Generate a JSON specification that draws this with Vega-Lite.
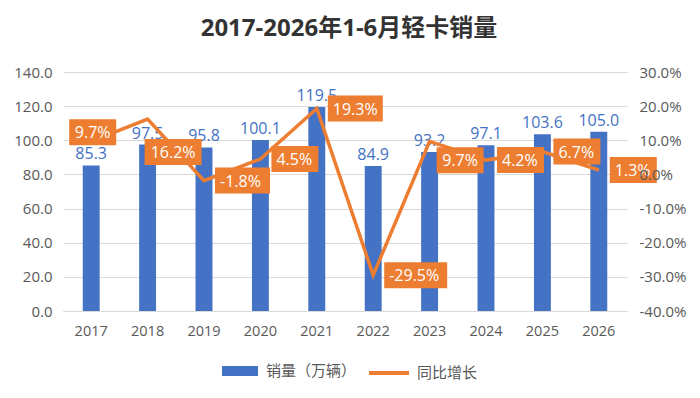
{
  "$schema": "https://vega.github.io/schema/vega-lite/v6.json",
  "width": 564,
  "height": 239,
  "autosize": {"type": "none"},
  "padding": {"left": 63, "top": 72, "right": 73, "bottom": 87},
  "background": "white",
  "title": {
    "text": "2017-2026年1-6月轻卡销量",
    "anchor": "middle",
    "dx": 4,
    "offset": 24,
    "fontSize": 24,
    "fontWeight": "bold",
    "color": "#333333"
  },
  "data": {
    "values": [
      {"year": "2017", "sales": 85.3, "growth": 0.097},
      {"year": "2018", "sales": 97.5, "growth": 0.162},
      {"year": "2019", "sales": 95.8, "growth": -0.018},
      {"year": "2020", "sales": 100.1, "growth": 0.045},
      {"year": "2021", "sales": 119.5, "growth": 0.193},
      {"year": "2022", "sales": 84.9, "growth": -0.295},
      {"year": "2023", "sales": 93.2, "growth": 0.097},
      {"year": "2024", "sales": 97.1, "growth": 0.042},
      {"year": "2025", "sales": 103.6, "growth": 0.067},
      {"year": "2026", "sales": 105.0, "growth": 0.013}
    ]
  },
  "config": {
    "font": "Open Sans, Noto Sans CJK SC",
    "locale": {
      "number": {
        "decimal": ".",
        "thousands": ",",
        "grouping": [3],
        "currency": ["", ""],
        "minus": "-"
      }
    },
    "view": {"stroke": null},
    "axis": {
      "labelFont": "Open Sans, Noto Sans CJK SC",
      "labelFontSize": 15,
      "labelColor": "#595959",
      "title": null,
      "ticks": false,
      "domain": false,
      "gridColor": "#D9D9D9"
    },
    "legend": {
      "labelFont": "Open Sans, Noto Sans CJK SC",
      "labelFontSize": 15,
      "labelColor": "#595959",
      "padding": 0
    }
  },
  "encoding": {
    "x": {
      "field": "year",
      "type": "ordinal",
      "scale": {"paddingInner": 0.7, "paddingOuter": 0.35},
      "axis": {
        "labelAngle": 0,
        "domain": true,
        "domainColor": "#D9D9D9",
        "domainWidth": 1,
        "grid": false,
        "labelPadding": 13,
        "labelFontSize": 14.5,
        "labelColor": "#595959"
      }
    }
  },
  "layer": [
    {
      "encoding": {
        "y": {
          "field": "sales",
          "type": "quantitative",
          "scale": {"domain": [0, 140], "nice": false},
          "axis": {
            "values": [0, 20, 40, 60, 80, 100, 120, 140],
            "format": ".1f",
            "labelPadding": 11,
            "labelFontSize": 15,
            "labelColor": "#595959",
            "grid": true,
            "gridColor": "#D9D9D9"
          }
        }
      },
      "layer": [
        {
          "mark": {"type": "bar"},
          "encoding": {
            "fill": {
              "datum": "销量（万辆）",
              "scale": {"domain": ["销量（万辆）"], "range": ["#4472C4"]},
              "legend": {
                "orient": "none",
                "legendX": 159,
                "legendY": 281,
                "title": null,
                "symbolType": "M-1,-0.28H1V0.28H-1Z",
                "symbolSize": 1296,
                "symbolStrokeWidth": 0,
                "labelOffset": 8,
                "labelFontSize": 15
              }
            }
          }
        },
        {
          "mark": {
            "type": "text",
            "baseline": "alphabetic",
            "dy": -6,
            "color": "#4472C4",
            "fontSize": 16
          },
          "encoding": {
            "text": {"field": "sales", "type": "quantitative", "format": ".1f"}
          }
        }
      ]
    },
    {
      "encoding": {
        "y": {
          "field": "growth",
          "type": "quantitative",
          "scale": {"domain": [-0.4, 0.3], "nice": false, "zero": false},
          "axis": {
            "orient": "right",
            "values": [-0.4, -0.3, -0.2, -0.1, 0, 0.1, 0.2, 0.3],
            "format": ".1%",
            "grid": false,
            "labelPadding": 12,
            "labelFontSize": 15,
            "labelColor": "#595959",
            "zindex": 1
          }
        }
      },
      "layer": [
        {
          "mark": {"type": "line", "strokeWidth": 3.5, "strokeJoin": "miter"},
          "encoding": {
            "stroke": {
              "datum": "同比增长",
              "scale": {"domain": ["同比增长"], "range": ["#ED7D31"]},
              "legend": {
                "orient": "none",
                "legendX": 304,
                "legendY": 279,
                "title": null,
                "symbolType": "stroke",
                "symbolSize": 1600,
                "symbolStrokeWidth": 4,
                "labelOffset": 6,
                "labelFontSize": 15
              }
            }
          }
        },
        {
          "mark": {
            "type": "point",
            "filled": true,
            "color": "#ED7D31",
            "opacity": 1,
            "size": 4,
            "strokeWidth": 0
          },
          "encoding": {
            "shape": {
              "condition": [
                {"test": "datum.year == '2017'", "value": "M-22,-22H25V4H-22Z"},
                {"test": "datum.year == '2018'", "value": "M-3,20H54V46H-3Z"},
                {"test": "datum.year == '2023'", "value": "M7,6H54V32H7Z"},
                {"test": "datum.growth <= -0.1", "value": "M11,-13H74V13H11Z"},
                {"test": "datum.growth >= 0.1 || datum.growth < 0", "value": "M11,-13H66V13H11Z"}
              ],
              "value": "M11,-13H58V13H11Z"
            }
          }
        },
        {
          "transform": [
            {"filter": "datum.year != '2017' && datum.year != '2018' && datum.year != '2023'"}
          ],
          "mark": {
            "type": "text",
            "align": "left",
            "baseline": "middle",
            "dx": 16,
            "dy": 1,
            "color": "white",
            "fontSize": 16
          },
          "encoding": {
            "text": {"field": "growth", "type": "quantitative", "format": ".1%"}
          }
        },
        {
          "transform": [{"filter": "datum.year == '2017'"}],
          "mark": {
            "type": "text",
            "align": "center",
            "baseline": "middle",
            "dx": 1.5,
            "dy": -8,
            "color": "white",
            "fontSize": 16
          },
          "encoding": {
            "text": {"field": "growth", "type": "quantitative", "format": ".1%"}
          }
        },
        {
          "transform": [{"filter": "datum.year == '2018'"}],
          "mark": {
            "type": "text",
            "align": "center",
            "baseline": "middle",
            "dx": 25.5,
            "dy": 34,
            "color": "white",
            "fontSize": 16
          },
          "encoding": {
            "text": {"field": "growth", "type": "quantitative", "format": ".1%"}
          }
        },
        {
          "transform": [{"filter": "datum.year == '2023'"}],
          "mark": {
            "type": "text",
            "align": "center",
            "baseline": "middle",
            "dx": 30.5,
            "dy": 20,
            "color": "white",
            "fontSize": 16
          },
          "encoding": {
            "text": {"field": "growth", "type": "quantitative", "format": ".1%"}
          }
        }
      ]
    }
  ],
  "resolve": {"scale": {"y": "independent"}}
}
